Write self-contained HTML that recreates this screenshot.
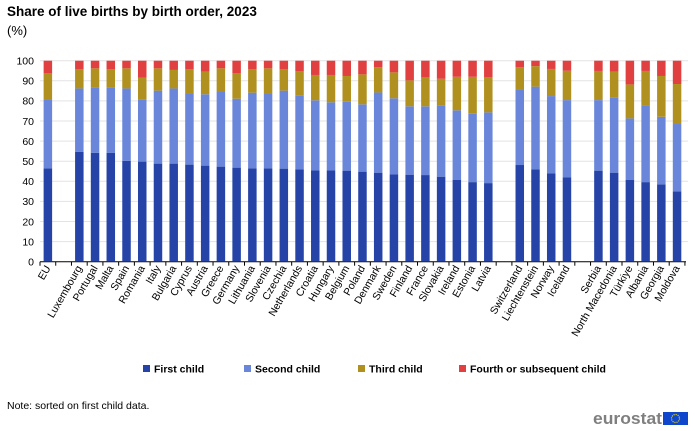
<!DOCTYPE html>
<html><head><meta charset="utf-8"><style>
body{margin:0;background:#fff;}
svg{display:block;font-family:"Liberation Sans",Arial,sans-serif;}
</style></head><body>
<svg width="700" height="431" viewBox="0 0 700 431" xmlns="http://www.w3.org/2000/svg">
<text x="7" y="16" font-size="13.5" font-weight="bold" fill="#000">Share of live births by birth order, 2023</text>
<text x="7" y="35" font-size="13" fill="#000">(%)</text>
<g id="grid"></g>
<g id="bars"></g>
<g id="labels" font-size="10.5" fill="#000"></g>
<g font-size="10.5" fill="#000">
<rect x="143" y="365" width="7" height="7" fill="#2644a7"/><text x="154" y="372.5" font-weight="bold">First child</text>
<rect x="244" y="365" width="7" height="7" fill="#6a86da"/><text x="255" y="372.5" font-weight="bold">Second child</text>
<rect x="358" y="365" width="7" height="7" fill="#b09120"/><text x="369" y="372.5" font-weight="bold">Third child</text>
<rect x="459" y="365" width="7" height="7" fill="#e04040"/><text x="470" y="372.5" font-weight="bold">Fourth or subsequent child</text>
</g>
<text x="7" y="409" font-size="10.5" fill="#000">Note: sorted on first child data.</text>
<text x="593" y="424" font-size="17" font-weight="bold" fill="#7f7f7f" textLength="69" lengthAdjust="spacingAndGlyphs">eurostat</text>
<rect x="663" y="412" width="25" height="13" fill="#0e47cb"/>
<circle cx="675.5" cy="418.5" r="4" fill="none" stroke="#ffe000" stroke-width="1.2" stroke-dasharray="1 1.1"/>
</svg>
<script>
const d=[["EU",46.4,80.9,93.7],null,["Luxembourg",54.6,86.2,95.7],["Portugal",54.2,86.6,96.2],["Malta",54.1,86.6,95.7],["Spain",50.2,86.2,96.2],["Romania",49.8,80.8,91.5],["Italy",48.8,85.1,96.2],["Bulgaria",48.8,86.2,95.4],["Cyprus",48.3,83.7,95.7],["Austria",47.8,83.3,94.5],["Greece",47.3,84.9,96.2],["Germany",46.8,81.1,93.7],["Lithuania",46.4,84.1,95.7],["Slovenia",46.4,83.7,96.2],["Czechia",46.3,85.1,95.7],["Netherlands",45.9,82.6,94.7],["Croatia",45.4,80.3,92.9],["Hungary",45.4,79.3,92.9],["Belgium",45.3,79.6,92.4],["Poland",44.8,78.3,93.2],["Denmark",44.3,84.2,96.7],["Sweden",43.4,81.3,94.2],["Finland",43.3,77.3,90.2],["France",43.1,77.3,91.7],["Slovakia",42.3,77.8,91],["Ireland",40.8,75.3,92],["Estonia",39.6,73.6,92],["Latvia",39.1,74.3,91.7],null,["Switzerland",48.1,85.7,96.7],["Liechtenstein",45.9,87.1,97.3],["Norway",43.9,82.4,95.9],["Iceland",41.9,80.4,95],null,["Serbia",45.3,80.4,94.9],["North Macedonia",44.3,81.8,94.5],["Türkiye",40.8,71.3,88.2],["Albania",39.6,77.9,94.9],["Georgia",38.5,72.1,92.4],["Moldova",35,68.5,88.4]];
const NS="http://www.w3.org/2000/svg";
function el(t,a,p,txt){const e=document.createElementNS(NS,t);for(const k in a)e.setAttribute(k,a[k]);if(txt!=null)e.textContent=txt;document.getElementById(p).appendChild(e);return e;}
const y0=261.7,k=2.01,x0=40,sw=15.73,bw=8.5;
const Y=v=>y0-v*k;
for(let i=0;i<=10;i++){const y=Y(i*10);
 if(i>0)el("line",{x1:x0,x2:688,y1:y,y2:y,stroke:"#e3e3e3","stroke-width":1},"grid");
 el("text",{x:34,y:y+3.8,"text-anchor":"end","font-size":10.5,fill:"#000"},"grid",String(i*10));}
el("line",{x1:x0,x2:686,y1:y0,y2:y0,stroke:"#000","stroke-width":1},"grid");
for(let i=0;i<=41;i++){const x=x0+i*sw;el("line",{x1:x,x2:x,y1:y0,y2:y0+4,stroke:"#000","stroke-width":1},"grid");}
const cols=["#2644a7","#6a86da","#b09120","#e04040"];
d.forEach((r,i)=>{if(!r)return;const cx=x0+sw*(i+0.5);const v=[0,r[1],r[2],r[3],100];
 for(let s=0;s<4;s++)el("rect",{x:cx-bw/2,y:Y(v[s+1]),width:bw,height:(v[s+1]-v[s])*k,fill:cols[s]},"bars");
 el("text",{x:cx+3,y:268,"text-anchor":"end",transform:`rotate(-60 ${cx+3} 268)`},"labels",r[0]);});
</script>
</body></html>
